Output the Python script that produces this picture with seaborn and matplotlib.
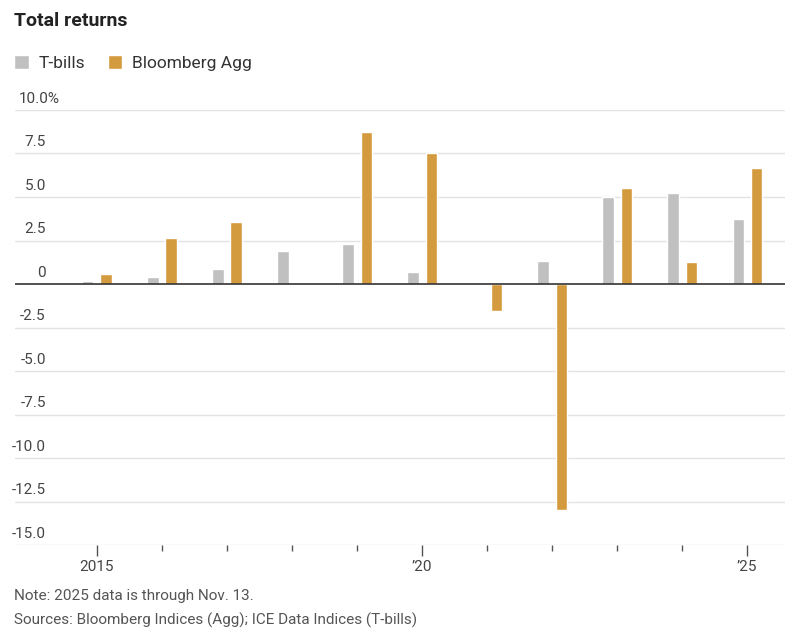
import matplotlib
matplotlib.use("Agg")
import matplotlib.pyplot as plt
import matplotlib.transforms as mtransforms
import seaborn as sns
import pandas as pd

# Annual total returns, %
years = [2015, 2016, 2017, 2018, 2019, 2020, 2021, 2022, 2023, 2024, 2025]
tbills = [0.15, 0.38, 0.86, 1.90, 2.30, 0.70, 0.05, 1.30, 5.00, 5.25, 3.75]
agg = [0.55, 2.65, 3.54, 0.02, 8.72, 7.51, -1.54, -13.01, 5.53, 1.25, 6.65]
series = ["T-bills", "Bloomberg Agg"]
year_labels = {2015: "2015", 2020: "\u201920", 2025: "\u201925"}
y_ticks = [10, 7.5, 5, 2.5, 0, -2.5, -5, -7.5, -10, -12.5, -15]

df = pd.DataFrame({
    "year": years * 2,
    "series": [series[0]] * len(years) + [series[1]] * len(years),
    "value": tbills + agg,
})

sns.set_style("white")
plt.rcParams["font.family"] = ["Roboto", "DejaVu Sans"]

fig = plt.figure(figsize=(8, 6.36), dpi=100)
ax = fig.add_axes([15 / 800, 1 - 545 / 636, 770 / 800, 435 / 636])

palette = {"T-bills": "#c0c0c0", "Bloomberg Agg": "#d49a3e"}
sns.barplot(data=df, x="year", y="value", hue="series", hue_order=series,
            palette=palette, width=0.56, gap=0.38, saturation=1,
            ax=ax, zorder=2)

ax.set_ylim(-15, 10)
ax.set_xlim(-1.26, 10.58)
ax.set_xlabel("")
ax.set_ylabel("")
for s in ax.spines.values():
    s.set_visible(False)

# gridlines and labels sitting above them
lab_tr = mtransforms.blended_transform_factory(ax.transAxes, ax.transData)
off = mtransforms.ScaledTranslation(0, 3 / 72, fig.dpi_scale_trans)
for v in y_ticks:
    if v == 0:
        ax.axhline(0, color="#333333", lw=1.2, zorder=4)
    else:
        ax.axhline(v, color="#e3e3e3", lw=1.0, zorder=0)
    if v == 10:
        ax.text(0.0045, v, "10.0%", transform=lab_tr + off, ha="left",
                va="bottom", fontsize=11, color="#444444")
        continue
    txt = "0" if v == 0 else f"{v:.1f}"
    ax.text(0.040, v, txt, transform=lab_tr + off, ha="right", va="bottom",
            fontsize=11, color="#444444")
ax.set_yticks([])

cats = list(range(len(years)))
ax.set_xticks([years.index(y) for y in year_labels])
ax.set_xticklabels(list(year_labels.values()), fontsize=11, color="#444444")
ax.set_xticks(cats, minor=True)
ax.tick_params(axis="x", which="major", length=8, width=1, color="#555555",
               pad=3, bottom=True)
ax.tick_params(axis="x", which="minor", length=4, width=1, color="#555555",
               bottom=True)

sns.move_legend(ax, "upper left", bbox_to_anchor=(14 / 800, 1 - 55 / 636),
                bbox_transform=fig.transFigure, ncol=2, title=None,
                frameon=False, fontsize=12.5, borderpad=0, borderaxespad=0,
                handlelength=0.85, handleheight=0.85, handletextpad=0.55,
                columnspacing=1.3, labelcolor="#333333")

fig.text(14 / 800, 1 - 21 / 636, "Total returns", fontsize=14,
         fontweight="bold", color="#222222", va="center")
fig.text(14 / 800, 1 - 596 / 636, "Note: 2025 data is through Nov. 13.",
         fontsize=11, color="#555555", va="center")
fig.text(14 / 800, 1 - 620 / 636,
         "Sources: Bloomberg Indices (Agg); ICE Data Indices (T-bills)",
         fontsize=11, color="#555555", va="center")

fig.savefig("out.png", dpi=100)
